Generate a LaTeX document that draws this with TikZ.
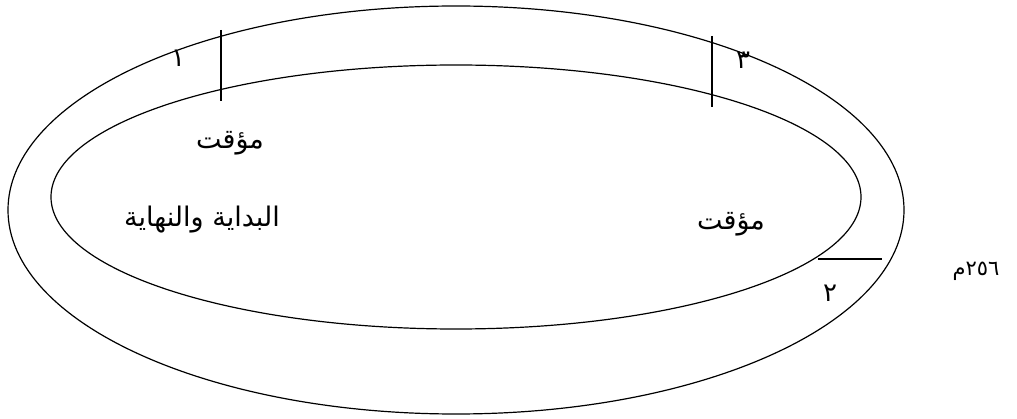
\documentclass[tikz,border=0pt]{standalone}
\usepackage{fontspec}
\newfontfamily\arabicfont[Script=Arabic]{DejaVu Sans}
\TeXXeTstate=1
\usetikzlibrary{positioning}

\tikzset{
    track/.style={line width=1.2pt},
    mark line/.style={line width=1.2pt},
    lbl/.style={font=\arabicfont\fontsize{27}{30}\selectfont, inner sep=0pt},
    lane/.style={font=\arabicfont\fontsize{26}{28}\selectfont, inner sep=0pt},
    dist/.style={font=\arabicfont\fontsize{21}{24}\selectfont, inner sep=0pt}
}

\begin{document}
\begin{tikzpicture}[x=1pt, y=-1pt, node distance=2cm]

    \useasboundingbox (0,0) rectangle (1017,419);

    % the two lanes
    \draw[track] (456,210) ellipse [x radius=448pt, y radius=204pt];
    \draw[track] (456,197) ellipse [x radius=405pt, y radius=132pt];

    % the three marks
    \coordinate (m1a) at (221,30);
    \coordinate (m1b) at (221,101);
    \coordinate (m3a) at (712,36);
    \coordinate (m3b) at (712,107);
    \coordinate (m2a) at (818,259);
    \coordinate (m2b) at (882,259);

    \draw[mark line] (m1a) -- (m1b);
    \draw[mark line] (m3a) -- (m3b);
    \draw[mark line] (m2a) -- (m2b);

    \node[lane] (one) at (178,58) {\beginR ١\endR};
    \node[lane] (three) at (743,60) {\beginR ٣\endR};
    \node[lane] (two) at (830,293) {\beginR ٢\endR};

    \node[lbl] (timerA) at (230,143) {\beginR مؤقت\endR};
    \node[lbl] (startend) at (202,220) {\beginR البداية والنهاية\endR};
    \node[lbl] (timerB) at (731,224) {\beginR مؤقت\endR};

    \node[dist] (length) at (976,271) {\beginR\beginL ٢٥٦\endL{}م\endR};

\end{tikzpicture}
\end{document}
